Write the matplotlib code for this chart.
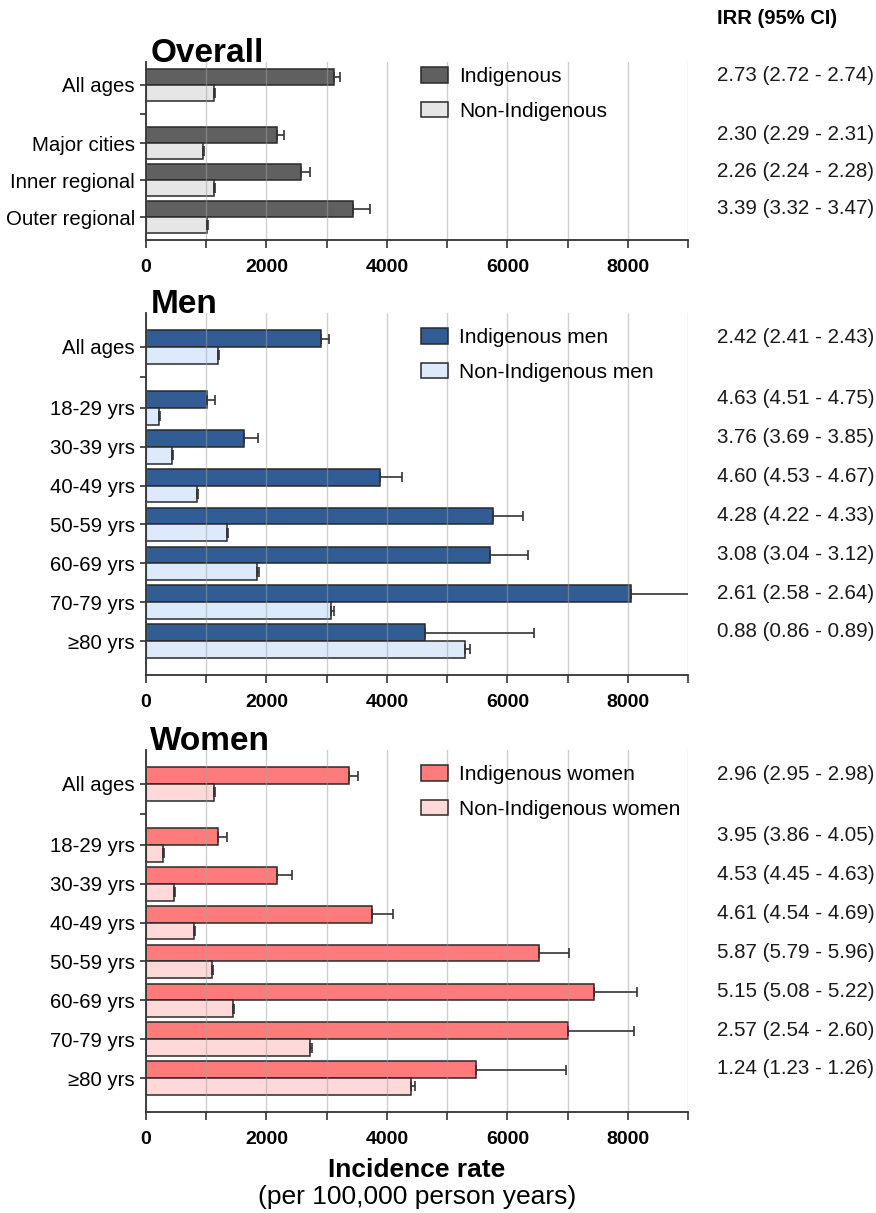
import matplotlib.pyplot as plt
from matplotlib.patches import Patch

plt.rcParams['font.family'] = ['Liberation Sans', 'DejaVu Sans']

# ---- data (rate per 100,000 person years, upper 95% CI) ----
overall_labels = ["All ages", "Major cities", "Inner regional", "Outer regional"]
overall_ind = [3120, 2180, 2580, 3430]
overall_ind_hi = [3215, 2290, 2730, 3715]
overall_non = [1135, 940, 1135, 1005]
overall_non_hi = [1150, 955, 1150, 1030]
overall_irr = ["2.73 (2.72 - 2.74)", "2.30 (2.29 - 2.31)",
               "2.26 (2.24 - 2.28)", "3.39 (3.32 - 3.47)"]

age_labels = ["All ages", "18-29 yrs", "30-39 yrs", "40-49 yrs",
              "50-59 yrs", "60-69 yrs", "70-79 yrs", "≥80 yrs"]

men_ind = [2900, 1005, 1630, 3890, 5760, 5705, 8055, 4640]
men_ind_hi = [3035, 1150, 1860, 4250, 6260, 6340, 9400, 6435]
men_non = [1190, 215, 430, 845, 1345, 1850, 3080, 5300]
men_non_hi = [1205, 225, 445, 865, 1365, 1880, 3120, 5375]
men_irr = ["2.42 (2.41 - 2.43)", "4.63 (4.51 - 4.75)", "3.76 (3.69 - 3.85)",
           "4.60 (4.53 - 4.67)", "4.28 (4.22 - 4.33)", "3.08 (3.04 - 3.12)",
           "2.61 (2.58 - 2.64)", "0.88 (0.86 - 0.89)"]

women_ind = [3370, 1190, 2170, 3750, 6520, 7445, 7005, 5480]
women_ind_hi = [3520, 1340, 2430, 4100, 7030, 8155, 8105, 6980]
women_non = [1125, 290, 460, 800, 1100, 1445, 2720, 4405]
women_non_hi = [1140, 305, 475, 815, 1115, 1460, 2760, 4460]
women_irr = ["2.96 (2.95 - 2.98)", "3.95 (3.86 - 4.05)", "4.53 (4.45 - 4.63)",
             "4.61 (4.54 - 4.69)", "5.87 (5.79 - 5.96)", "5.15 (5.08 - 5.22)",
             "2.57 (2.54 - 2.60)", "1.24 (1.23 - 1.26)"]

H = 0.43      # bar height
GAP = 1.57    # distance from "All ages" to the next group


def draw_panel(ax, title, labels, ind, ind_hi, non, non_hi, irr,
               colors, leg_labels, margin):
    n = len(labels)
    pos = [0] + [GAP + i for i in range(n - 1)]
    y_ind = [p - H / 2 for p in pos]
    y_non = [p + H / 2 for p in pos]

    ax.barh(y_ind, ind, height=H, color=colors[0], edgecolor='#2a2a2a', lw=1.1)
    ax.barh(y_non, non, height=H, color=colors[1], edgecolor='#2a2a2a', lw=1.1)
    ax.errorbar(ind, y_ind, xerr=[[0] * n, [h - v for h, v in zip(ind_hi, ind)]],
                fmt='none', ecolor='#333333', elinewidth=1.2, capsize=3.3, capthick=1.2)
    ax.errorbar(non, y_non, xerr=[[0] * n, [h - v for h, v in zip(non_hi, non)]],
                fmt='none', ecolor='#333333', elinewidth=1.2, capsize=3.3, capthick=1.2)

    ax.set_xlim(0, 9000)
    ax.set_ylim(pos[-1] + margin, -margin)
    ax.set_xticks(range(0, 9001, 1000))
    ax.set_xticklabels([str(v) if v % 2000 == 0 else '' for v in range(0, 9001, 1000)],
                       fontsize=14, fontweight='bold')
    ax.set_yticks([pos[0], GAP / 2] + pos[1:])
    ax.set_yticklabels([labels[0], ''] + labels[1:], fontsize=14.7)
    ax.tick_params(axis='x', length=6, width=1.2, pad=8, color='#333333')
    ax.tick_params(axis='y', length=4, width=1.2, pad=4, color='#333333')
    ax.xaxis.grid(True, color='#a0a0a0', alpha=0.5, lw=1)

    for s in ['top', 'right']:
        ax.spines[s].set_visible(False)
    for s in ['left', 'bottom']:
        ax.spines[s].set_linewidth(1.3)
        ax.spines[s].set_color('#333333')

    ax.text(0.008, 1.0, title, transform=ax.transAxes, fontsize=24,
            fontweight='bold', va='baseline', ha='left')

    for p, t in zip(pos, irr):
        ax.annotate(t, xy=(1.053, p), xycoords=ax.get_yaxis_transform(),
                    xytext=(0, 6.5), textcoords='offset points',
                    ha='left', va='center', fontsize=14.8, color='#1a1a1a')

    handles = [Patch(facecolor=colors[0], edgecolor='#2a2a2a', lw=1.1),
               Patch(facecolor=colors[1], edgecolor='#2a2a2a', lw=1.1)]
    ax.legend(handles, leg_labels, loc='upper left', frameon=False,
              bbox_to_anchor=(0.507, -H - 0.05), bbox_transform=ax.get_yaxis_transform(),
              fontsize=15, handlelength=1.3, handleheight=0.75,
              handletextpad=0.55, labelspacing=0.75, borderpad=0, borderaxespad=0)


fig = plt.figure(figsize=(8.76, 12.13), dpi=100)
L, W = 146 / 876, 542 / 876
ax1 = fig.add_axes([L, 1 - 240 / 1213, W, 178 / 1213])
ax2 = fig.add_axes([L, 1 - 675 / 1213, W, 362 / 1213])
ax3 = fig.add_axes([L, 1 - 1112 / 1213, W, 362 / 1213])

draw_panel(ax1, "Overall", overall_labels, overall_ind, overall_ind_hi,
           overall_non, overall_non_hi, overall_irr,
           ['#606060', '#e6e6e6'], ["Indigenous", "Non-Indigenous"], 0.62)
draw_panel(ax2, "Men", age_labels, men_ind, men_ind_hi, men_non, men_non_hi,
           men_irr, ['#325c94', '#dceafb'],
           ["Indigenous men", "Non-Indigenous men"], 0.875)
draw_panel(ax3, "Women", age_labels, women_ind, women_ind_hi, women_non,
           women_non_hi, women_irr, ['#ff7b7b', '#ffd9d9'],
           ["Indigenous women", "Non-Indigenous women"], 0.875)

fig.text(717 / 876, 1 - 18 / 1213, "IRR (95% CI)", fontsize=14.5,
         fontweight='bold', ha='left', va='center')
fig.text(417 / 876, 1 - 1170 / 1213, "Incidence rate", fontsize=19,
         fontweight='bold', ha='center', va='center')
fig.text(417 / 876, 1 - 1197 / 1213, "(per 100,000 person years)", fontsize=19,
         ha='center', va='center')

fig.savefig("out.png", dpi=100)
